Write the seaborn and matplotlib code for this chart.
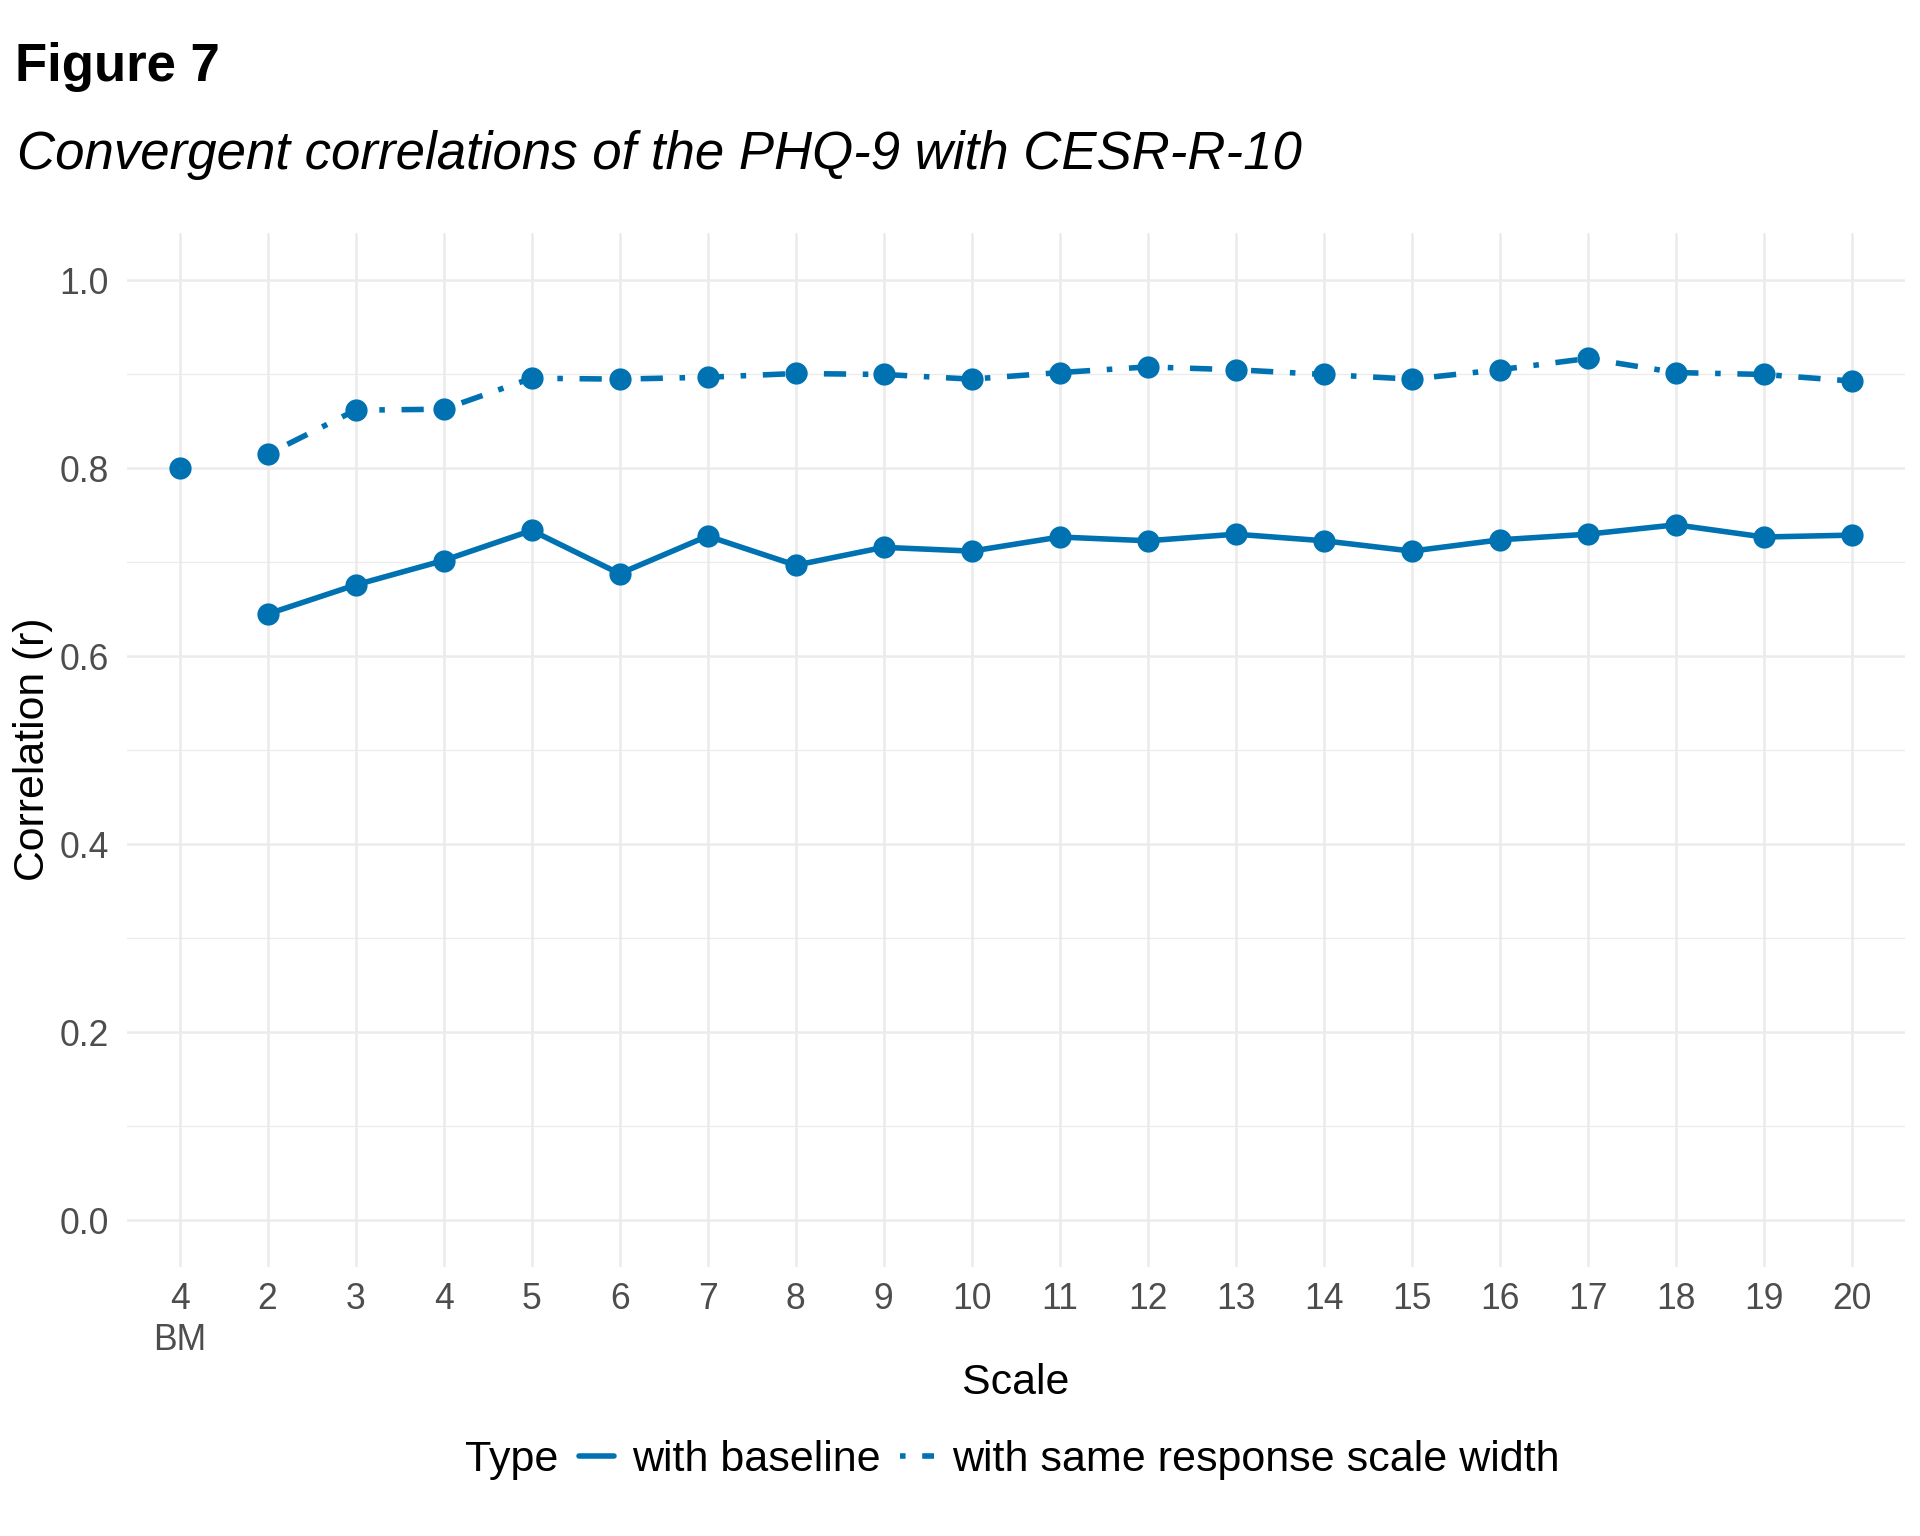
import matplotlib
matplotlib.use('Agg')
import matplotlib.pyplot as plt
import seaborn as sns
import pandas as pd
from matplotlib.lines import Line2D

# ---- data ----
scale_labels = ['4\nBM', '2', '3', '4', '5', '6', '7', '8', '9', '10',
                '11', '12', '13', '14', '15', '16', '17', '18', '19', '20']
series_scales = ['2', '3', '4', '5', '6', '7', '8', '9', '10',
                 '11', '12', '13', '14', '15', '16', '17', '18', '19', '20']
r_with_baseline = [0.645, 0.676, 0.702, 0.734, 0.688, 0.728, 0.697, 0.716, 0.712,
                   0.727, 0.723, 0.730, 0.723, 0.712, 0.724, 0.730, 0.740, 0.727, 0.729]
r_same_width = [0.815, 0.862, 0.863, 0.896, 0.895, 0.897, 0.901, 0.900, 0.895,
                0.902, 0.908, 0.905, 0.900, 0.895, 0.905, 0.917, 0.902, 0.900, 0.893]
bm_label = '4\nBM'
bm_value = 0.800
type_names = ['with baseline', 'with same response scale width']
y_ticks = [0.0, 0.2, 0.4, 0.6, 0.8, 1.0]
y_minor = [0.1, 0.3, 0.5, 0.7, 0.9]

BLUE = '#0072B2'

sns.set_theme(style='white')
plt.rcParams['font.family'] = ['Liberation Sans', 'DejaVu Sans']
plt.rcParams['text.color'] = 'black'

pos = [scale_labels.index(s) for s in series_scales]
df = pd.DataFrame({
    'pos': pos + pos,
    'r': r_with_baseline + r_same_width,
    'Type': [type_names[0]] * len(pos) + [type_names[1]] * len(pos),
})
bm_df = pd.DataFrame({'pos': [scale_labels.index(bm_label)], 'r': [bm_value]})

fig = plt.figure(figsize=(9.6, 7.68), dpi=200)
ax = fig.add_axes([0.066, 0.175, 0.926, 0.673])

LW = 2.0
dash_pat = (1, 3, 4, 3)
sns.lineplot(data=df, x='pos', y='r', style='Type', style_order=type_names,
             dashes={type_names[0]: '', type_names[1]: dash_pat},
             markers={type_names[0]: 'o', type_names[1]: 'o'},
             color=BLUE, linewidth=LW, markersize=8, markeredgewidth=0,
             errorbar=None, legend=False, sort=False, ax=ax, zorder=3)
sns.scatterplot(data=bm_df, x='pos', y='r', color=BLUE, s=64, linewidth=0,
                legend=False, ax=ax, zorder=3)

ax.set_xlim(-0.6, len(scale_labels) - 1 + 0.6)
ax.set_ylim(-0.05, 1.05)
ax.set_xticks(range(len(scale_labels)))
ax.set_xticklabels(scale_labels)
ax.set_yticks(y_ticks)
ax.set_yticklabels([f'{v:.1f}' for v in y_ticks])
ax.set_yticks(y_minor, minor=True)
ax.tick_params(axis='both', which='both', length=0, labelsize=12.8,
               labelcolor='#4D4D4D')
ax.tick_params(axis='y', pad=6.5)
ax.tick_params(axis='x', pad=5.5)
ax.grid(True, which='major', color='#EBEBEB', linewidth=0.9)
ax.grid(True, which='minor', axis='y', color='#EBEBEB', linewidth=0.45)
ax.set_axisbelow(True)
for sp in ax.spines.values():
    sp.set_visible(False)
ax.set_xlabel('')
ax.set_ylabel('')

fig.text(0.0077, 0.947, 'Figure 7', fontsize=19, fontweight='bold',
         ha='left', va='baseline', color='black')
fig.text(0.009, 0.890, 'Convergent correlations of the PHQ-9 with CESR-R-10',
         fontsize=19, fontstyle='italic', ha='left', va='baseline', color='black')
fig.text(0.529, 0.0997, 'Scale', fontsize=15.4, ha='center', va='center',
         color='black')
fig.text(0.017, 0.512, 'Correlation (r)', fontsize=15.4, rotation=90,
         ha='center', va='center', color='black')

fig.text(0.2423, 0.0494, 'Type', fontsize=15.5, ha='left', va='center',
         color='black')
handles = [Line2D([], [], color=BLUE, lw=LW, ls='-'),
           Line2D([], [], color=BLUE, lw=LW, ls=(0, dash_pat))]
leg = fig.legend(handles, type_names, loc='center left',
                 bbox_to_anchor=(0.3017, 0.0494),
                 ncol=2, frameon=False, fontsize=15.5, handlelength=0.8,
                 handletextpad=0.42, columnspacing=0.45, borderpad=0,
                 borderaxespad=0)
for t in leg.get_texts():
    t.set_color('black')

fig.savefig('out.png', dpi=200, facecolor='white')
